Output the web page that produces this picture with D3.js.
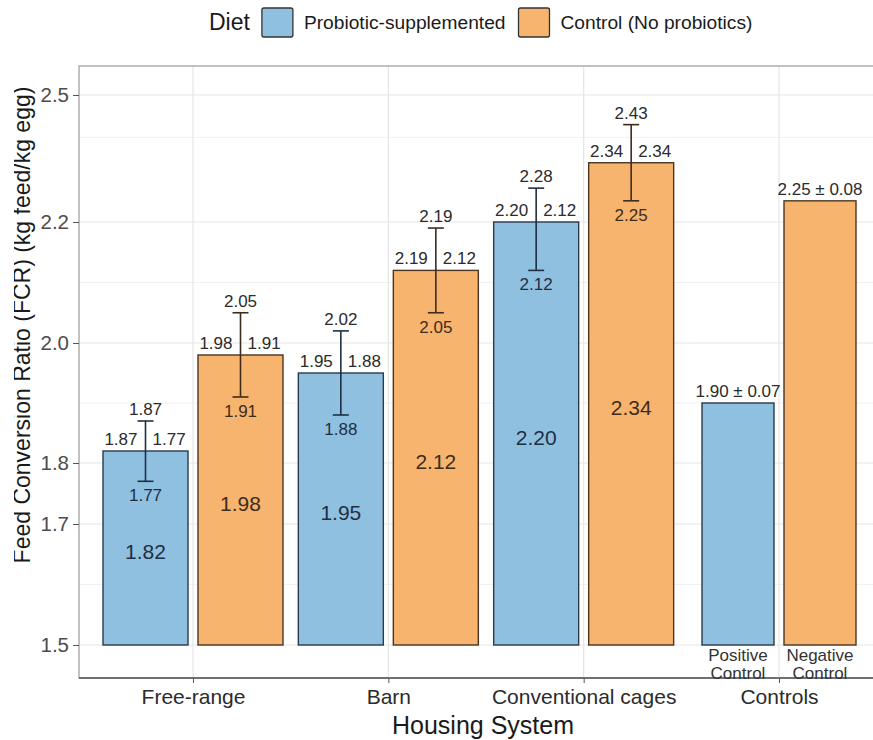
<!DOCTYPE html>
<html><head><meta charset="utf-8">
<script src="https://cdn.jsdelivr.net/npm/d3@7"></script>
<style>
body{margin:0;background:#fff}
svg{display:block}
text{font-family:"Liberation Sans",Arial,Helvetica,sans-serif}
</style>
</head><body>
<svg id="chart" width="873" height="740"></svg>
<script>
// ---------------- data ----------------
const groups = ["Free-range", "Barn", "Conventional cages", "Controls"];
const diets = ["Probiotic-supplemented", "Control (No probiotics)"];

const barGroup = ["Free-range","Free-range","Barn","Barn","Conventional cages","Conventional cages","Controls","Controls"];
const barDiet  = ["Probiotic-supplemented","Control (No probiotics)","Probiotic-supplemented","Control (No probiotics)",
                  "Probiotic-supplemented","Control (No probiotics)","Probiotic-supplemented","Control (No probiotics)"];
const barMean  = [1.82, 1.98, 1.95, 2.12, 2.20, 2.34, 1.90, 2.25];
const barLower = [1.77, 1.91, 1.88, 2.05, 2.12, 2.25, null, null];
const barUpper = [1.87, 2.05, 2.02, 2.19, 2.28, 2.43, null, null];
const sideLeft  = ["1.87", "1.98", "1.95", "2.19", "2.20", "2.34", null, null];
const sideRight = ["1.77", "1.91", "1.88", "2.12", "2.12", "2.34", null, null];
const controlSD = [null, null, null, null, null, null, 0.07, 0.08];
const controlName = [null, null, null, null, null, null, ["Positive", "Control"], ["Negative", "Control"]];

const yTicks = [1.5, 1.7, 1.8, 2.0, 2.2, 2.5];
const yTickLabels = ["1.5", "1.7", "1.8", "2.0", "2.2", "2.5"];
const yMinor = [1.6, 1.9, 2.1, 2.4];
const baseValue = 1.5;

// ---------------- layout ----------------
const svg = d3.select("#chart");
const panel = {left: 79, top: 66, right: 887, bottom: 678};
const fillC = {"Probiotic-supplemented": "#8fc0e0", "Control (No probiotics)": "#f7b46f"};
const strokeC = {"Probiotic-supplemented": "#2a3a4c", "Control (No probiotics)": "#4a3522"};
const inkC = {"Probiotic-supplemented": "#1e2f45", "Control (No probiotics)": "#3e2c1b"};

// y: the reference axis is drawn with ticks at these pixel rows
const y = d3.scaleLinear().domain(yTicks).range([645, 524, 463, 343, 222, 95]);
const x = d3.scalePoint().domain(groups).range([193, 779]);
const sub = d3.scaleBand().domain(diets).range([-90, 90]).paddingInner(10/95);
const subCtrl = d3.scaleBand().domain(diets).range([-77, 77]).paddingInner(10/82);
const subFor = g => g === "Controls" ? subCtrl : sub;

const bars = barMean.map((m, i) => ({
  group: barGroup[i], diet: barDiet[i], mean: m, lo: barLower[i], hi: barUpper[i],
  left: sideLeft[i], right: sideRight[i], sd: controlSD[i], name: controlName[i]
}));
bars.forEach(d => {
  const s = subFor(d.group);
  d.x0 = x(d.group) + s(d.diet);
  d.w = s.bandwidth();
  d.cx = d.x0 + d.w / 2;
});

// panel clip
svg.append("clipPath").attr("id", "pc").append("rect")
  .attr("x", panel.left).attr("y", panel.top)
  .attr("width", panel.right - panel.left).attr("height", panel.bottom - panel.top);
const gp = svg.append("g").attr("clip-path", "url(#pc)");

// gridlines
gp.selectAll(".ymin").data(yMinor).join("line")
  .attr("x1", panel.left).attr("x2", panel.right)
  .attr("y1", d => y(d)).attr("y2", d => y(d))
  .attr("stroke", "#f1f1f1").attr("stroke-width", 1);
gp.selectAll(".ymaj").data(yTicks).join("line")
  .attr("x1", panel.left).attr("x2", panel.right)
  .attr("y1", d => y(d)).attr("y2", d => y(d))
  .attr("stroke", "#e6e6e6").attr("stroke-width", 1.2);
gp.selectAll(".xmaj").data(groups).join("line")
  .attr("x1", d => x(d)).attr("x2", d => x(d))
  .attr("y1", panel.top).attr("y2", panel.bottom)
  .attr("stroke", "#e6e6e6").attr("stroke-width", 1.2);

// bars
gp.selectAll(".bar").data(bars).join("rect")
  .attr("x", d => d.x0).attr("width", d => d.w)
  .attr("y", d => y(d.mean)).attr("height", d => y(baseValue) - y(d.mean))
  .attr("fill", d => fillC[d.diet]).attr("stroke", d => strokeC[d.diet]).attr("stroke-width", 1.4);

// error bars
const eb = bars.filter(d => d.lo !== null);
const ge = gp.append("g");
ge.selectAll(".ev").data(eb).join("line")
  .attr("x1", d => d.cx).attr("x2", d => d.cx)
  .attr("y1", d => y(d.lo)).attr("y2", d => y(d.hi))
  .attr("stroke", d => inkC[d.diet]).attr("stroke-width", 1.6);
ge.selectAll(".et").data(eb).join("line")
  .attr("x1", d => d.cx - 8).attr("x2", d => d.cx + 8)
  .attr("y1", d => y(d.hi)).attr("y2", d => y(d.hi))
  .attr("stroke", d => inkC[d.diet]).attr("stroke-width", 1.6);
ge.selectAll(".eb").data(eb).join("line")
  .attr("x1", d => d.cx - 8).attr("x2", d => d.cx + 8)
  .attr("y1", d => y(d.lo)).attr("y2", d => y(d.lo))
  .attr("stroke", d => inkC[d.diet]).attr("stroke-width", 1.6);

// labels
const gl = gp.append("g").attr("font-size", 17);
gl.selectAll(".tl").data(eb).join("text")
  .attr("x", d => d.cx).attr("y", d => y(d.hi) - 6)
  .attr("text-anchor", "middle").attr("fill", "#2b2b2b")
  .text(d => d3.format(".2f")(d.hi));
gl.selectAll(".bl").data(eb).join("text")
  .attr("x", d => d.cx).attr("y", d => y(d.lo) + 20)
  .attr("text-anchor", "middle").attr("fill", d => inkC[d.diet])
  .text(d => d3.format(".2f")(d.lo));
gl.selectAll(".sl").data(eb).join("text")
  .attr("x", d => d.cx - 8).attr("y", d => y(d.mean) - 6)
  .attr("text-anchor", "end").attr("fill", "#2b2b2b")
  .text(d => d.left);
gl.selectAll(".sr").data(eb).join("text")
  .attr("x", d => d.cx + 7).attr("y", d => y(d.mean) - 6)
  .attr("text-anchor", "start").attr("fill", "#2b2b2b")
  .text(d => d.right);
gp.selectAll(".ml").data(eb).join("text")
  .attr("x", d => d.cx).attr("y", d => (y(d.mean) + y(baseValue)) / 2 + 11)
  .attr("text-anchor", "middle").attr("font-size", 21).attr("fill", d => inkC[d.diet])
  .text(d => d3.format(".2f")(d.mean));

const ctrl = bars.filter(d => d.sd !== null);
gl.selectAll(".cl").data(ctrl).join("text")
  .attr("x", d => d.cx).attr("y", d => y(d.mean) - 6)
  .attr("text-anchor", "middle").attr("fill", "#2b2b2b")
  .text(d => d3.format(".2f")(d.mean) + " \u00b1 " + d3.format(".2f")(d.sd));

// panel border
svg.append("rect").attr("x", panel.left).attr("y", panel.top)
  .attr("width", panel.right - panel.left).attr("height", panel.bottom - panel.top)
  .attr("fill", "none").attr("stroke", "#9a9a9a").attr("stroke-width", 1.2);
svg.append("line").attr("x1", panel.left).attr("x2", panel.right)
  .attr("y1", panel.bottom).attr("y2", panel.bottom)
  .attr("stroke", "#555").attr("stroke-width", 1.3);

// control names under the bars (overlapping the axis line, as in the reference)
const cn = svg.selectAll(".cn").data(ctrl).join("text")
  .attr("text-anchor", "middle").attr("font-size", 17).attr("fill", "#333");
cn.each(function(d) {
  d3.select(this).selectAll("tspan").data(d.name).join("tspan")
    .attr("x", d.cx).attr("y", (t, j) => y(baseValue) + 16 + j * 18).text(t => t);
});

// y axis
const ya = svg.append("g").attr("transform", `translate(${panel.left},0)`)
  .call(d3.axisLeft(y).tickValues(yTicks).tickSize(6).tickPadding(4)
        .tickFormat((d, i) => yTickLabels[i]));
ya.select(".domain").remove();
ya.selectAll(".tick line").attr("stroke", "#555");
ya.selectAll(".tick text").attr("font-size", 20.5).attr("fill", "#4d4d4d")
  .attr("font-family", "Liberation Sans, Arial, sans-serif");

// x axis
const xa = svg.append("g").attr("transform", `translate(0,${panel.bottom})`)
  .call(d3.axisBottom(x).tickSize(5).tickPadding(6));
xa.select(".domain").remove();
xa.selectAll(".tick line").attr("stroke", "#555");
xa.selectAll(".tick text").attr("font-size", 21).attr("fill", "#2b2b2b")
  .attr("font-family", "Liberation Sans, Arial, sans-serif");

// axis titles
svg.append("text").attr("x", 483).attr("y", 734)
  .attr("text-anchor", "middle").attr("font-size", 25).attr("fill", "#1a1a1a")
  .text("Housing System");
svg.append("text").attr("transform", "rotate(-90)").attr("x", -325).attr("y", 30)
  .attr("text-anchor", "middle").attr("font-size", 23).attr("fill", "#1a1a1a")
  .text("Feed Conversion Ratio (FCR) (kg feed/kg egg)");
svg.append("rect").attr("x", 0).attr("y", 0).attr("width", 14).attr("height", 740).attr("fill", "#fff");

// legend
const lg = svg.append("g");
let lx = 209;
const lt = lg.append("text").attr("x", lx).attr("y", 30).attr("font-size", 23).attr("fill", "#1a1a1a").text("Diet");
lx += lt.node().getComputedTextLength() + 12;
diets.forEach(dn => {
  lg.append("rect").attr("x", lx).attr("y", 8).attr("width", 31).attr("height", 29).attr("rx", 2)
    .attr("fill", fillC[dn]).attr("stroke", "#333").attr("stroke-width", 1.3);
  lx += 42;
  const t = lg.append("text").attr("x", lx).attr("y", 29).attr("font-size", 19.2).attr("fill", "#1a1a1a").text(dn);
  lx += t.node().getComputedTextLength() + 13;
});
</script>
</body></html>
